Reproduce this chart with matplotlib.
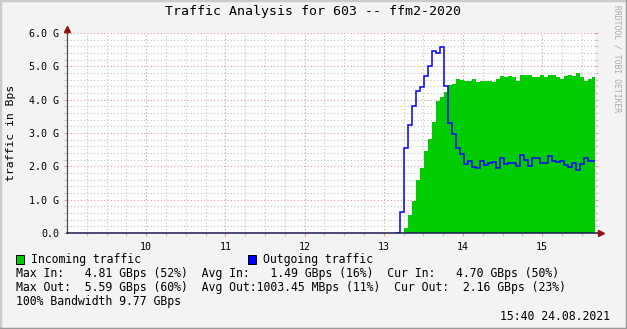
#!/usr/bin/env python3
"""RRDtool-style traffic graph for port 603 (ffm2-2020), redrawn in matplotlib."""

import numpy as np
import matplotlib
matplotlib.use("Agg")
import matplotlib.pyplot as plt
from matplotlib.lines import Line2D
from matplotlib.patches import Rectangle

W, H = 627, 329
MONO = "DejaVu Sans Mono"

# time axis (hours of the day)
X_START, X_END = 9.0, 15.667
SAMPLE_START = 13.2          # first non-zero sample, 13:12
SAMPLE_STEP = 0.0505         # ~3 minute consolidation step (hours)
HOUR_TICKS = [10, 11, 12, 13, 14, 15]
Y_TICKS = [0, 1, 2, 3, 4, 5, 6]
Y_LABELS = ["0.0", "1.0 G", "2.0 G", "3.0 G", "4.0 G", "5.0 G", "6.0 G"]

# traffic in G(Bps), one value per step
in_gbps = [0.0, 0.15, 0.55, 0.97, 1.60, 1.96, 2.47, 2.83, 3.34, 3.97,
           4.08, 4.22, 4.45, 4.48, 4.62, 4.58, 4.57, 4.55, 4.62, 4.52,
           4.57, 4.57, 4.57, 4.54, 4.63, 4.72, 4.67, 4.72, 4.67, 4.57,
           4.75, 4.75, 4.75, 4.69, 4.69, 4.75, 4.69, 4.73, 4.75, 4.69,
           4.62, 4.70, 4.73, 4.70, 4.80, 4.69, 4.57, 4.63, 4.68]
out_gbps = [0.62, 2.55, 3.23, 3.80, 4.27, 4.38, 4.72, 5.02, 5.46, 5.40,
            5.58, 4.42, 3.30, 2.97, 2.55, 2.37, 2.07, 2.15, 1.99, 1.96,
            2.15, 2.05, 2.11, 2.13, 1.96, 2.25, 2.07, 2.10, 2.10, 2.02,
            2.34, 2.20, 2.02, 2.25, 2.25, 2.10, 2.10, 2.31, 2.16, 2.13,
            2.17, 2.04, 1.99, 2.10, 1.89, 2.08, 2.26, 2.17, 2.17]

legend_rows = [
    "Max In:   4.81 GBps (52%)  Avg In:   1.49 GBps (16%)  Cur In:   4.70 GBps (50%)",
    "Max Out:  5.59 GBps (60%)  Avg Out:1003.45 MBps (11%)  Cur Out:  2.16 GBps (23%)",
    "100% Bandwidth 9.77 GBps",
]

GREEN = "#00CC00"
BLUE = "#0000FF"
ARROW = "#921010"
MINOR = "#c4c4c4"
MAJOR = "#e39a9a"


def fx(x):
    return x / W


def fy(y):
    return 1 - y / H


fig = plt.figure(figsize=(W / 100, H / 100), dpi=100, facecolor="#F3F3F3")
ax = fig.add_axes([fx(67), fy(233), 528 / W, 200 / H])
ax.set_facecolor("white")

edges = SAMPLE_START + SAMPLE_STEP * np.arange(len(in_gbps) + 1)
ax.stairs(in_gbps, edges, fill=True, color=GREEN, lw=0, zorder=2)
# one zero step in front so the line rises from the baseline
out_edges = np.concatenate([[SAMPLE_START - SAMPLE_STEP], edges])
ax.stairs([0.0] + out_gbps, out_edges, color=BLUE, lw=1.1, zorder=3,
          baseline=None)

ax.set_xlim(X_START, X_END)
ax.set_ylim(0, 6)
ax.set_xticks(HOUR_TICKS)
ax.set_xticklabels([str(h) for h in HOUR_TICKS])
ax.set_xticks(np.arange(9.25, X_END, 0.25), minor=True)
ax.set_yticks(Y_TICKS)
ax.set_yticklabels(Y_LABELS)
ax.set_yticks(np.arange(0.2, 6.0, 0.2), minor=True)

ax.set_axisbelow(True)
ax.grid(which="minor", color=MINOR, lw=0.8, ls=(0, (1, 2)))
ax.grid(which="major", color=MAJOR, lw=0.8, ls=(0, (1, 2)))

ax.tick_params(which="both", direction="out", length=2.5, width=0.8,
               labelsize=7.2, pad=3, right=True, labelfontfamily=MONO)
ax.tick_params(which="minor", color=MINOR)
ax.tick_params(which="major", color=MAJOR)
ax.tick_params(axis="x", pad=4)

for side in ("top", "right", "left", "bottom"):
    ax.spines[side].set_visible(False)

# axis lines with arrow heads
ax.plot([0, 0], [0, 1.02], transform=ax.transAxes, color="#505050",
        lw=0.9, clip_on=False, zorder=4)
ax.plot([0, 1.012], [0, 0], transform=ax.transAxes, color="#1a1a50",
        lw=1.1, clip_on=False, zorder=4)
ax.plot(0, 1.02, marker="^", ms=5, color=ARROW, transform=ax.transAxes,
        clip_on=False, zorder=5)
ax.plot(1.012, 0, marker=">", ms=5, color=ARROW, transform=ax.transAxes,
        clip_on=False, zorder=5)

fig.text(fx(313), fy(12), "Traffic Analysis for 603 -- ffm2-2020",
         family=MONO, fontsize=9.5, ha="center", va="center")
fig.text(fx(11), fy(133), "traffic in Bps", family=MONO, fontsize=8.2,
         rotation=90, ha="center", va="center")
fig.text(fx(617), fy(5), "RRDTOOL / TOBI OETIKER", family=MONO,
         fontsize=5.8, color="#aaaaaa", rotation=-90, ha="center", va="top")

# legend
fig.add_artist(Rectangle((fx(16), fy(264)), 8 / W, 9 / H, facecolor=GREEN,
                         edgecolor="black", lw=0.7))
fig.add_artist(Rectangle((fx(248), fy(264)), 8 / W, 9 / H, facecolor=BLUE,
                         edgecolor="black", lw=0.7))
fig.text(fx(31), fy(259), "Incoming traffic", family=MONO, fontsize=8.3,
         va="center")
fig.text(fx(263), fy(259), "Outgoing traffic", family=MONO, fontsize=8.3,
         va="center")
for row, ypix in zip(legend_rows, [273, 287, 301]):
    fig.text(fx(16), fy(ypix), row, family=MONO, fontsize=8.3, va="center")
fig.text(fx(610), fy(316), "15:40 24.08.2021", family=MONO, fontsize=8.3,
         ha="right", va="center")

# 3D frame round the image
fig.add_artist(Line2D([0, 0, 1], [0, 1, 1], color="#CBCBCB", lw=2.5,
                      transform=fig.transFigure))
fig.add_artist(Line2D([0, 1, 1], [0, 0, 1], color="#999999", lw=2.5,
                      transform=fig.transFigure))

fig.savefig("out.png", dpi=100, facecolor=fig.get_facecolor())
